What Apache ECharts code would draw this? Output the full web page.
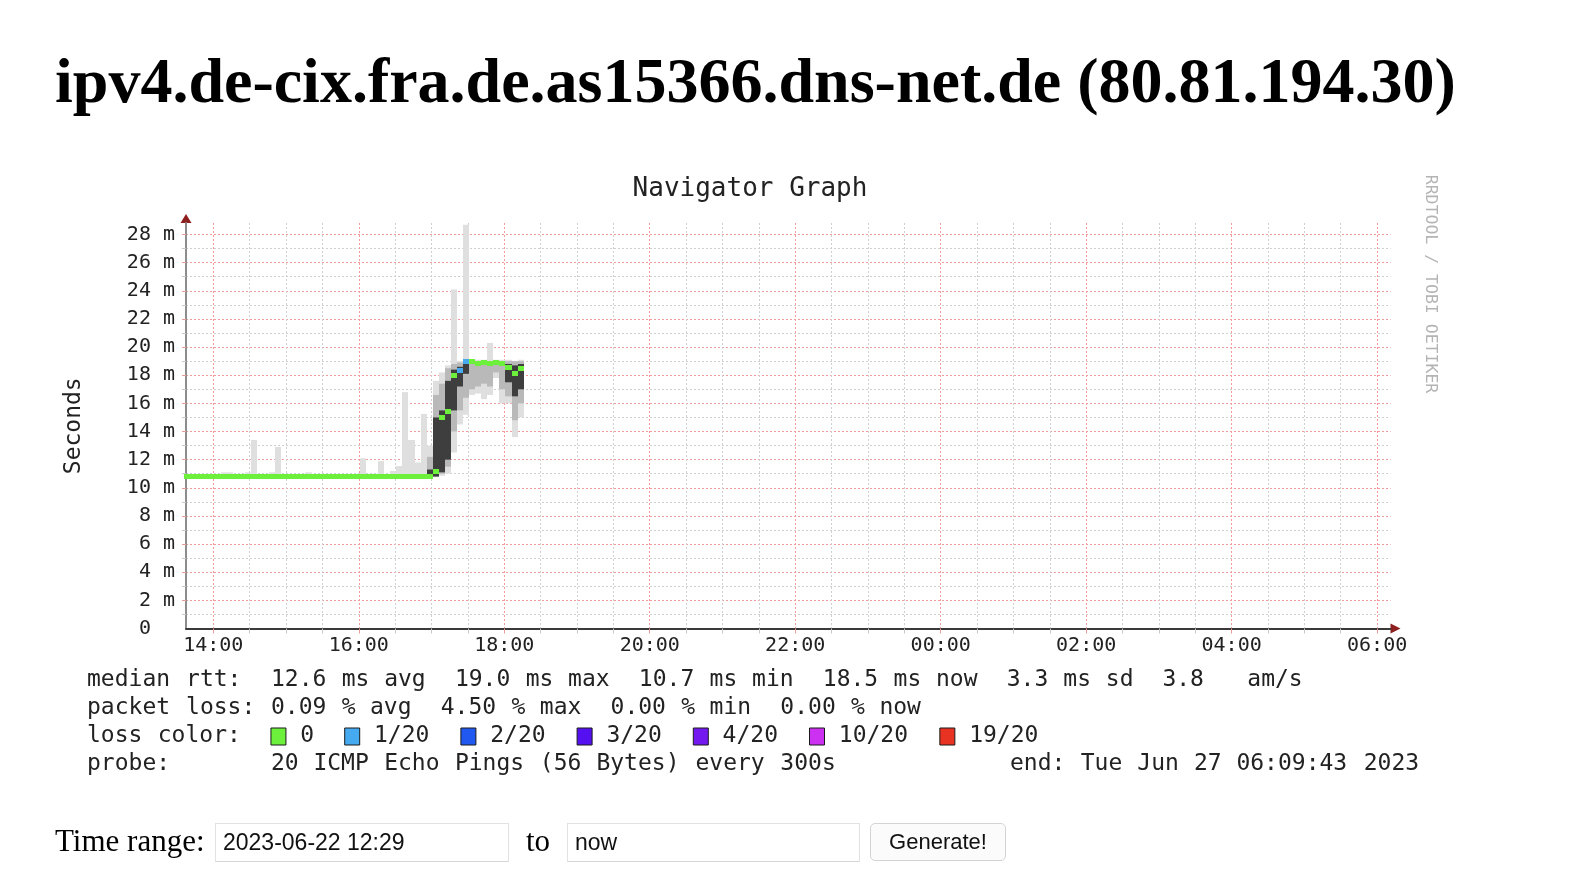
<!DOCTYPE html>
<html>
<head>
<meta charset="utf-8">
<script src="https://cdn.jsdelivr.net/npm/echarts@6.0.0/dist/echarts.min.js"></script>
<style>
html,body{margin:0;padding:0;background:#fff;width:1584px;height:886px;overflow:hidden;}
#chart{position:absolute;left:0;top:0;width:1584px;height:886px;}
h1{position:absolute;left:55px;top:49px;margin:0;font:bold 64px/64px "Liberation Serif","Times New Roman",serif;white-space:nowrap;color:#000;}
.lbl{position:absolute;font:31px/40px "Liberation Serif","Times New Roman",serif;color:#000;white-space:nowrap;}
.inp{position:absolute;box-sizing:border-box;height:39px;border:1px solid #e2e2e2;border-bottom-color:#d6d6d6;background:#fff;font:23px/37px "Liberation Sans",Arial,sans-serif;color:#111;padding-left:7px;}
.btn{position:absolute;box-sizing:border-box;height:38px;border:1px solid #d4d4d4;border-radius:5px;background:#fbfbfb;font:22px/36px "Liberation Sans",Arial,sans-serif;color:#111;text-align:center;}
</style>
</head>
<body>
<div id="chart"></div>
<h1>ipv4.de-cix.fra.de.as15366.dns-net.de (80.81.194.30)</h1>
<div class="lbl" style="left:55px;top:821px;">Time range:</div>
<div class="inp" style="left:215px;top:823px;width:294px;">2023-06-22 12:29</div>
<div class="lbl" style="left:526px;top:821px;">to</div>
<div class="inp" style="left:567px;top:823px;width:293px;">now</div>
<div class="btn" style="left:870px;top:823px;width:136px;">Generate!</div>
<script>
// ---------- data ----------
const xLabelHours = [14, 16, 18, 20, 22, 24, 26, 28, 30];
const xMinorHours = [14.5, 15, 15.5, 16.5, 17, 17.5, 18.5, 19, 19.5, 20.5, 21, 21.5,
  22.5, 23, 23.5, 24.5, 25, 25.5, 26.5, 27, 27.5, 28.5, 29, 29.5];
const yLabelValues = [0, 2, 4, 6, 8, 10, 12, 14, 16, 18, 20, 22, 24, 26, 28];
const yMajorValues = [2, 4, 6, 8, 10, 12, 14, 16, 18, 20, 22, 24, 26, 28];
const yMinorValues = [1, 3, 5, 7, 9, 11, 13, 15, 17, 19, 21, 23, 25, 27];

const xMinHour = 13.6245;   // 13:37:28
const xMaxHour = 30.184;    // 06:11 next day
const yMaxMs = 28.82;

const firstStepHour = 13.6;  // 13:36, first 300 s step
const stepHours = 5 / 60;

// median rtt (ms) per 5-minute step
const median = [
  10.77, 10.77, 10.77, 10.77, 10.77, 10.77, 10.77, 10.77, 10.77, 10.77,
  10.77, 10.77, 10.77, 10.77, 10.77, 10.77, 10.77, 10.77, 10.77, 10.77,
  10.77, 10.77, 10.77, 10.77, 10.77, 10.77, 10.77, 10.77, 10.77, 10.77,
  10.77, 10.77, 10.77, 10.77, 10.77, 10.77, 10.77, 10.77, 10.77, 10.77,
  10.77, 11.15, 15.0, 15.4, 18.0, 18.35, 19.0, 18.95, 18.8, 18.9,
  18.85, 18.9, 18.85, 18.55, 18.1, 18.45];
// lost pings out of 20 per step
const lossCount = [
  0,0,0,0,0,0,0,0,0,0, 0,0,0,0,0,0,0,0,0,0,
  0,0,0,0,0,0,0,0,0,0, 0,0,0,0,0,0,0,0,0,0,
  0,0,0,0,0,1,1,0,0,0, 0,0,0,0,0,0];
// smoke: outer (lightest) band = min..max ping
const smokeMin = [
  10.75,10.75,10.75,10.75,10.75,10.75,10.75,10.75,10.75,10.75,
  10.75,10.75,10.75,10.75,10.75,10.75,10.75,10.75,10.75,10.75,
  10.75,10.75,10.75,10.75,10.75,10.75,10.75,10.75,10.75,10.75,
  10.75,10.75,10.75,10.75,10.75,10.75,10.75,10.75,10.75,10.75,
  10.75,10.75,10.85,11.0,12.5,14.5,15.2,16.6,16.7,16.3,
  16.6,17.8,16.0,16.0,13.6,15.0];
const smokeMax = [
  10.9,10.9,10.9,10.9,10.9,10.95,11.1,11.1,10.9,10.95,
  11.1,13.4,10.9,10.95,11.1,12.9,10.9,10.9,10.9,10.95,
  11.1,10.9,10.9,10.9,10.9,10.9,10.9,10.9,11.0,12.1,
  10.9,11.0,11.9,10.95,11.2,11.55,16.8,13.4,11.8,15.25,
  13.0,17.6,18.2,18.7,24.1,19.0,28.7,19.1,19.1,19.1,
  20.3,19.1,19.1,19.1,19.0,19.1];
// middle band
const midLo = [
  null,null,null,null,null,null,null,null,null,null,
  null,null,null,null,null,null,null,null,null,null,
  null,null,null,null,null,null,null,null,null,null,
  null,null,null,null,null,null,null,null,null,null,
  10.85,10.8,11.0,11.5,14.0,15.5,16.4,17.0,17.2,17.4,
  17.2,18.2,17.0,16.5,14.8,16.0];
const midHi = [
  null,null,null,null,null,null,null,null,null,null,
  null,null,null,null,null,null,null,null,null,null,
  null,null,null,null,null,null,null,null,null,null,
  null,null,null,null,null,null,null,null,null,null,
  12.2,16.6,17.4,18.5,18.8,18.9,19.0,19.0,19.0,19.0,
  19.0,19.0,19.0,19.0,19.0,19.0];
// dark inner band
const darkLo = [
  null,null,null,null,null,null,null,null,null,null,
  null,null,null,null,null,null,null,null,null,null,
  null,null,null,null,null,null,null,null,null,null,
  null,null,null,null,null,null,null,null,null,null,
  10.8,10.8,11.1,12.0,15.5,17.2,18.1,null,null,null,
  null,null,null,17.5,16.5,17.0];
const darkHi = [
  null,null,null,null,null,null,null,null,null,null,
  null,null,null,null,null,null,null,null,null,null,
  null,null,null,null,null,null,null,null,null,null,
  null,null,null,null,null,null,null,null,null,null,
  11.3,15.0,15.5,17.6,18.4,18.6,18.9,null,null,null,
  null,null,null,18.8,18.7,18.8];

const lossLabels = ['0', '1/20', '2/20', '3/20', '4/20', '10/20', '19/20'];
const lossColors = ['#6cf03c', '#46aaf0', '#2058f0', '#5410f0', '#7418f0', '#cc30f0', '#e83222'];
const lossClassByCount = {0: 0, 1: 1, 2: 2, 3: 3, 4: 4, 10: 5, 19: 6};

const statLines = [
  'median rtt:  12.6 ms avg  19.0 ms max  10.7 ms min  18.5 ms now  3.3 ms sd  3.8   am/s',
  'packet loss: 0.09 % avg  4.50 % max  0.00 % min  0.00 % now'
];
const lossTitle = 'loss color:';
const probeTitle = 'probe:';
const probeText = '20 ICMP Echo Pings (56 Bytes) every 300s';
const endText = 'end: Tue Jun 27 06:09:43 2023';
const chartTitle = 'Navigator Graph';
const yName = 'Seconds';
const watermark = 'RRDTOOL / TOBI OETIKER';

// ---------- chart ----------
const MONO = '"DejaVu Sans Mono", monospace';
const chart = echarts.init(document.getElementById('chart'), null, {renderer: 'canvas'});

function bandSeries(name, lo, hi, color) {
  const data = [];
  for (let k = 0; k < median.length; k++) {
    if (lo[k] != null && hi[k] != null) data.push([firstStepHour + k * stepHours, lo[k], hi[k]]);
  }
  return {
    type: 'custom', name, xAxisIndex: 1, yAxisIndex: 1, silent: true, animation: false,
    encode: {x: 0, y: [1, 2]},
    data,
    renderItem(params, api) {
      const h = api.value(0);
      const a = api.coord([h, api.value(2)]);
      const b = api.coord([h + stepHours, api.value(1)]);
      const x0 = Math.round(a[0]), x1 = Math.round(b[0]);
      return {type: 'rect', shape: {x: x0, y: a[1], width: x1 - x0, height: b[1] - a[1]},
        style: {fill: color}};
    }
  };
}

const medianData = median.map((m, k) => [firstStepHour + k * stepHours, m, lossCount[k]]);

const series = [
  bandSeries('smoke-outer', smokeMin, smokeMax, '#dfdfdf'),
  bandSeries('smoke-mid', midLo, midHi, '#b9b9b9'),
  bandSeries('smoke-inner', darkLo, darkHi, '#3e3e3e'),
  {
    type: 'custom', name: 'median rtt', xAxisIndex: 1, yAxisIndex: 1, silent: true, animation: false,
    encode: {x: 0, y: 1},
    data: medianData,
    z: 5,
    renderItem(params, api) {
      const h = api.value(0);
      const a = api.coord([h, api.value(1)]);
      const b = api.coord([h + stepHours, api.value(1)]);
      const x0 = Math.round(a[0]), x1 = Math.round(b[0]);
      const cls = lossClassByCount[api.value(2)] || 0;
      return {type: 'rect', shape: {x: x0, y: Math.round(a[1] - 2.5), width: x1 - x0, height: 5},
        style: {fill: lossColors[cls]}};
    }
  }
];

const hourFmt = v => { const h = Math.round(v) % 24; return (h < 10 ? '0' : '') + h + ':00'; };

const option = {
  animation: false,
  backgroundColor: '#fff',
  grid: {left: 186, right: 193.5, top: 223, bottom: 257.5, containLabel: false},
  xAxis: [
    { type: 'value', min: xMinHour, max: xMaxHour, position: 'bottom',
      axisLine: {show: false},
      axisTick: {show: true, customValues: xMinorHours, length: 5, lineStyle: {color: '#c8c8c8'}},
      axisLabel: {show: false},
      splitLine: {show: true, lineStyle: {color: '#cfcfcf', width: 1, type: [2, 2]}}
    },
    { type: 'value', min: xMinHour, max: xMaxHour, position: 'bottom',
      axisLine: {show: true, onZero: false, lineStyle: {color: '#3a3a3a', width: 2}},
      axisTick: {show: true, customValues: xLabelHours, length: 5, lineStyle: {color: '#ee9a9a'}},
      axisLabel: {show: true, customValues: xLabelHours, formatter: hourFmt, margin: 7,
        fontFamily: MONO, fontSize: 20, color: '#222'},
      splitLine: {show: true, lineStyle: {color: '#f29a9a', width: 1, type: [2, 2]}}
    }
  ],
  yAxis: [
    { type: 'value', min: 0, max: yMaxMs, position: 'left',
      axisLine: {show: false},
      axisTick: {show: true, customValues: yMinorValues, length: 4, lineStyle: {color: '#c8c8c8'}},
      axisLabel: {show: false},
      splitLine: {show: true, lineStyle: {color: '#cfcfcf', width: 1, type: [2, 2]}}
    },
    { type: 'value', min: 0, max: yMaxMs, position: 'left',
      name: yName, nameLocation: 'middle', nameRotate: 90, nameGap: 100,
      nameTextStyle: {fontFamily: MONO, fontSize: 23, color: '#222'},
      axisLine: {show: true, onZero: false, lineStyle: {color: '#8c8c8c', width: 2}},
      axisTick: {show: true, customValues: yMajorValues, length: 4, lineStyle: {color: '#ee9a9a'}},
      axisLabel: {show: true, customValues: yLabelValues, margin: 11,
        formatter: v => (v === 0 ? '0  ' : v + ' m'),
        fontFamily: MONO, fontSize: 20, color: '#222'},
      splitLine: {show: true, lineStyle: {color: '#f29a9a', width: 1, type: [2, 2]}}
    }
  ],
  series
};
chart.setOption(option);

// ---------- text / decorations ----------
const els = [];
const LEG_FONT = 'normal 23px ' + MONO;
const cw = 14.15;
const legX = 87;
function tokens(str, x0, y) {
  const re = /\S+/g; let m;
  while ((m = re.exec(str))) {
    els.push({type: 'text', x: x0 + m.index * cw, y, silent: true,
      style: {text: m[0], font: LEG_FONT, fill: '#222', align: 'left', verticalAlign: 'middle'}});
  }
}
const rowY = [680, 708, 736.5, 764];
tokens(statLines[0], legX, rowY[0]);
tokens(statLines[1], legX, rowY[1]);
tokens(lossTitle, legX, rowY[2]);
let bx = legX + 13 * cw;
lossLabels.forEach((lab, i) => {
  els.push({type: 'rect', silent: true, shape: {x: bx, y: rowY[2] - 8.5, width: 15, height: 17},
    style: {fill: lossColors[i], stroke: '#1a1a1a', lineWidth: 1}});
  const lx = bx + 29.3;
  els.push({type: 'text', x: lx, y: rowY[2], silent: true,
    style: {text: lab, font: LEG_FONT, fill: '#222', align: 'left', verticalAlign: 'middle'}});
  bx = lx + lab.length * cw + 30.3;
});
tokens(probeTitle, legX, rowY[3]);
tokens(probeText, legX + 13 * cw, rowY[3]);
tokens(endText, 1010, rowY[3]);

els.push({type: 'text', x: 750, y: 189, silent: true,
  style: {text: chartTitle, font: 'normal 26px ' + MONO, fill: '#222', align: 'center', verticalAlign: 'middle'}});
els.push({type: 'text', x: 1430, y: 284, rotation: -Math.PI / 2, silent: true,
  style: {text: watermark, font: 'normal 16.5px ' + MONO, fill: '#b4b4b4', align: 'center', verticalAlign: 'middle'}});

// axis arrows placed from the axis scales
const pTop = chart.convertToPixel({xAxisIndex: 1, yAxisIndex: 1}, [xMinHour, yMaxMs]);
const pEnd = chart.convertToPixel({xAxisIndex: 1, yAxisIndex: 1}, [xMaxHour, 0]);
els.push({type: 'polygon', silent: true,
  shape: {points: [[pTop[0], pTop[1] - 9], [pTop[0] - 5.5, pTop[1]], [pTop[0] + 5.5, pTop[1]]]},
  style: {fill: '#8e1f1f'}});
els.push({type: 'polygon', silent: true,
  shape: {points: [[pEnd[0] + 10, pEnd[1]], [pEnd[0], pEnd[1] - 5], [pEnd[0], pEnd[1] + 5]]},
  style: {fill: '#8e1f1f'}});

chart.setOption({graphic: {elements: els}});
</script>
</body>
</html>
